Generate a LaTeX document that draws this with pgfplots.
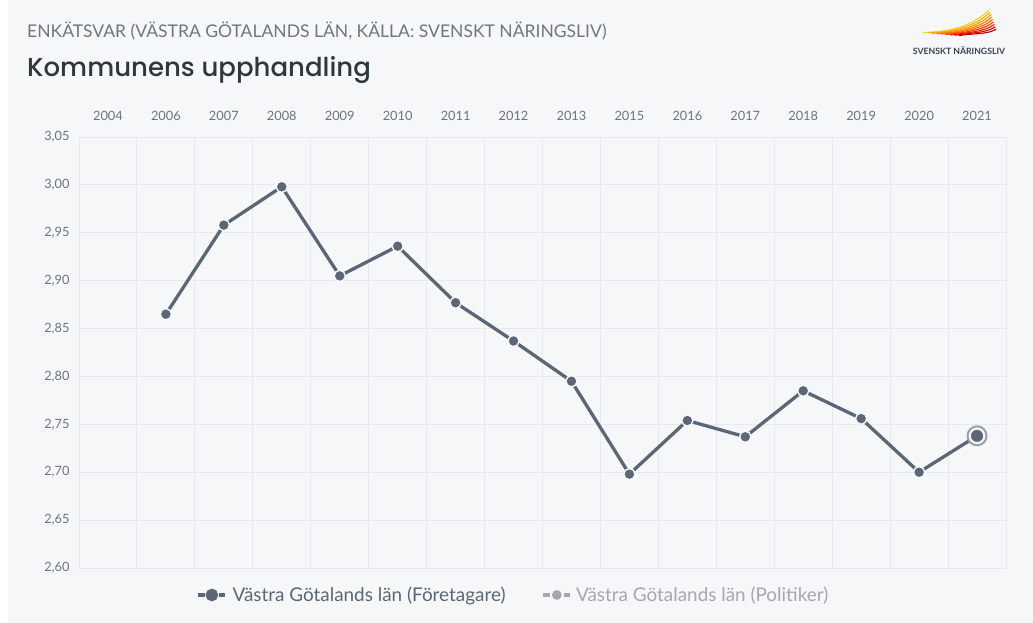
\documentclass[border=0pt]{standalone}
\usepackage{fontspec}
\setmainfont{Lato}
\newfontfamily\titlefont{Poppins}[UprightFont=*-Medium]
\usepackage{pgfplots}
\pgfplotsset{compat=1.18}
\definecolor{bg}{HTML}{F6F7F9}
\definecolor{gridc}{HTML}{E6E9ED}
\definecolor{linec}{HTML}{5B6776}
\definecolor{tickc}{HTML}{6B7480}
\definecolor{sub}{HTML}{6E7781}
\definecolor{ttl}{HTML}{2F3640}
\definecolor{polc}{HTML}{A4A8AD}
\definecolor{halo}{HTML}{9AA1A9}
\definecolor{logotxt}{HTML}{3A4250}
\begin{document}
\begin{tikzpicture}[x=1pt,y=1pt]
\useasboundingbox (0,0) rectangle (1033,623);
\fill[white] (0,0) rectangle (1033,623);
\fill[bg] (8,0) rectangle (1033,623);
% titles
\node[anchor=base west, inner sep=0, text=sub, font=\fontsize{17.5}{19}\selectfont] at (27,585) {ENKÄTSVAR (VÄSTRA GÖTALANDS LÄN, KÄLLA: SVENSKT NÄRINGSLIV)};
\node[anchor=base west, inner sep=0, text=ttl, font=\titlefont\fontsize{26}{28}\selectfont] at (27,546) {Kommunens upphandling};
% logo (decoration)
\foreach \i/\c in {0/yellow!70!orange,1/yellow!40!orange,2/orange!80!yellow,3/orange,4/orange!80!red,5/orange!50!red,6/red!80!orange,7/red!90!black,8/red!70!black}{
  \draw[\c, line width=1.1pt] (923+\i*4.5, 590.5-\i*0.4) .. controls (958+\i*1.5, 591.5-\i*0.2) and (975+\i*1.5,600-\i*1.5) .. (989+\i*0.9, 613-\i*2.4);
}
\node[anchor=center, inner sep=0, text=logotxt, font=\bfseries\fontsize{8.7}{9}\selectfont] at (959,572) {SVENSKT NÄRINGSLIV};
\begin{axis}[
  at={(79pt,55pt)}, anchor=south west,
  width=927pt, height=431pt, scale only axis,
  xmin=-0.5, xmax=15.5, ymin=2.6, ymax=3.05,
  xtick={0,...,15},
  xticklabels={2004,2006,2007,2008,2009,2010,2011,2012,2013,2015,2016,2017,2018,2019,2020,2021},
  xticklabel pos=upper,
  minor xtick={-0.5,0.5,1.5,2.5,3.5,4.5,5.5,6.5,7.5,8.5,9.5,10.5,11.5,12.5,13.5,14.5,15.5},
  xminorgrids,
  ytick={2.6,2.65,2.7,2.75,2.8,2.85,2.9,2.95,3.0,3.05},
  ymajorgrids,
  major tick length=0pt, minor tick length=0pt,
  axis line style={draw=none},
  grid style={gridc, line width=0.9pt},
  minor grid style={gridc, line width=0.9pt},
  tick label style={font=\fontsize{12.8}{14}\selectfont, text=tickc},
  xticklabel style={yshift=13pt},
  yticklabel style={xshift=-6pt, /pgf/number format/.cd, fixed, fixed zerofill, precision=2, use comma, assume math mode=true},
  clip=false,
  legend style={at={(axis description cs:0.5,0)}, anchor=center, xshift=-29pt, yshift=-27pt, draw=none, fill=none,
    font=\fontsize{18.9}{22}\selectfont, legend columns=2,
    /tikz/every even column/.append style={column sep=34pt}},
  legend cell align=left,
]
\addplot[linec, line width=3.3pt, mark=*, mark size=5.6pt,
  mark options={fill=linec, draw=bg, line width=1.4pt},
  legend image code/.code={
    \draw[line width=3.5pt] (-11pt,0pt) -- (-4.7pt,0pt);
    \draw[line width=3.5pt] (9.7pt,0pt) -- (16pt,0pt);
    \fill (2.5pt,0pt) circle (4.6pt);
    \path (19.5pt,0pt);}
] coordinates {
(1,2.865) (2,2.958) (3,2.998) (4,2.905) (5,2.936) (6,2.877) (7,2.837) (8,2.795)
(9,2.698) (10,2.754) (11,2.737) (12,2.785) (13,2.756) (14,2.700) (15,2.738)
};
\addlegendentry{\textcolor{linec}{Västra Götalands län (Företagare)}}
\addlegendimage{polc, legend image code/.code={
    \draw[line width=3.5pt] (-11pt,0pt) -- (-4.7pt,0pt);
    \draw[line width=3.5pt] (9.7pt,0pt) -- (16pt,0pt);
    \fill (2.5pt,0pt) circle (4.6pt);
    \path (19.5pt,0pt);}}
\addlegendentry{\textcolor{polc}{Västra Götalands län (Politiker)}}
\addplot[only marks, mark=*, mark size=9.5pt, mark options={fill=bg, draw=halo, line width=2pt}, forget plot] coordinates {(15,2.738)};
\addplot[only marks, mark=*, mark size=5.8pt, mark options={fill=linec, draw=linec}, forget plot] coordinates {(15,2.738)};
\end{axis}
\end{tikzpicture}
\end{document}
